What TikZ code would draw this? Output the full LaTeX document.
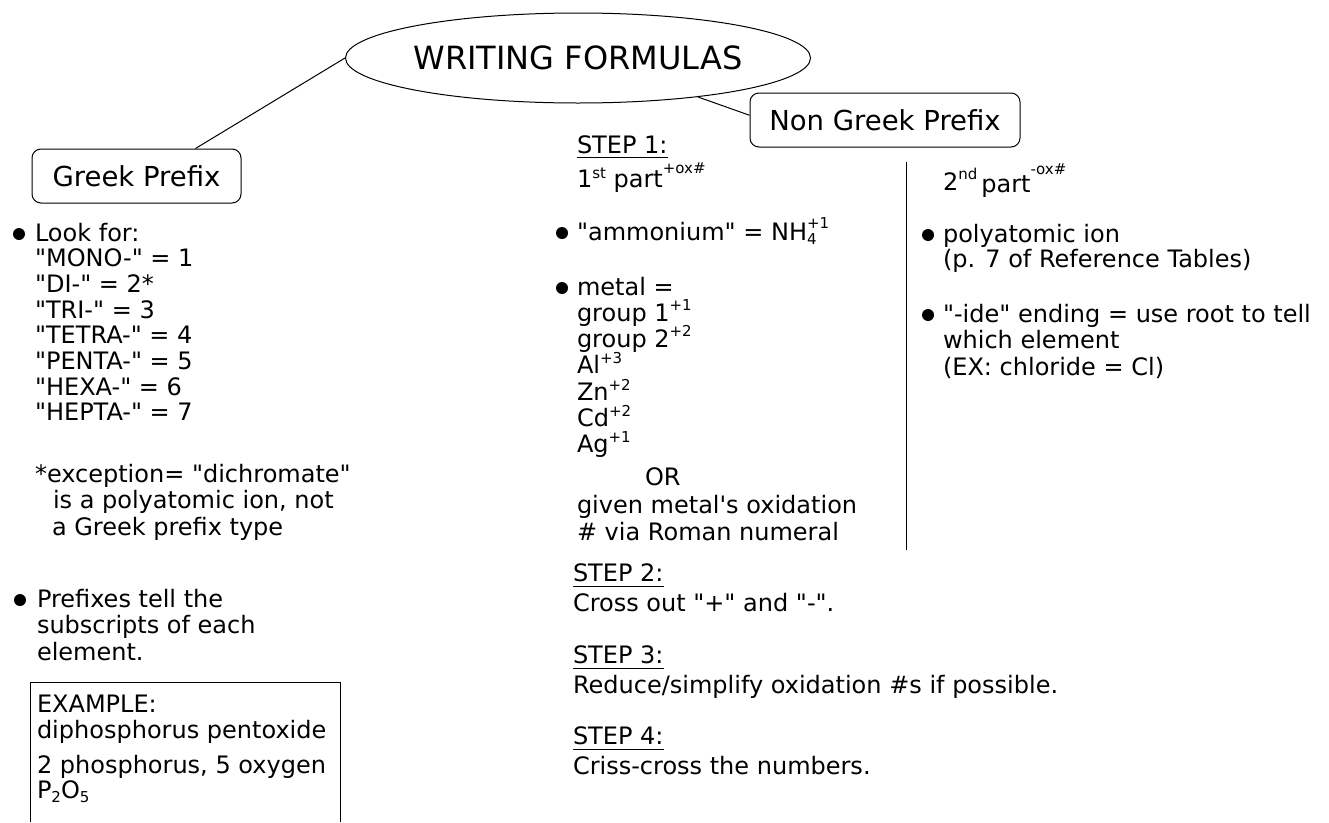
\documentclass[tikz,border=0pt]{standalone}
\usepackage{fontspec}
\setmainfont{DejaVu Sans}
\usetikzlibrary{shapes.geometric}
\newcommand\bodyf{\fontsize{24}{25.7}\selectfont}
\newcommand\metf{\fontsize{24}{26.3}\selectfont}
\newcommand\labf{\fontsize{27.5}{30}\selectfont}
\newcommand\titf{\fontsize{32}{36}\selectfont}
\newcommand\supx[2]{\smash{\raisebox{#1}{\fontsize{15}{15}\selectfont #2}}}
\newcommand\subx[2]{\smash{\raisebox{#1}{\fontsize{15}{15}\selectfont #2}}}
\newcommand\qq{\textquotedbl}
\begin{document}
\begin{tikzpicture}[x=1pt,y=-1pt,
  txt/.style={anchor=base west,inner sep=0pt,outer sep=0pt,align=left,font=\bodyf},
  concept/.style={draw,rounded corners=9pt,minimum height=54pt,inner sep=0pt,font=\labf,line width=1pt},
  title/.style={draw,ellipse,minimum width=424pt,minimum height=90pt,inner sep=0pt,font=\titf,line width=1pt},
  bul/.style={circle,fill=black,inner sep=0pt,minimum size=12pt},
  link/.style={line width=1pt},
  uline/.style={line width=1pt}]
\useasboundingbox (0,0) rectangle (1329,822);

% concepts
\node[title] (wf) at (578,58) {WRITING FORMULAS};
\node[concept,minimum width=209pt] (gp) at (136.5,176) {Greek Prefix};
\node[concept,minimum width=270pt] (ngp) at (885,120) {Non Greek Prefix};
\draw[link] (gp.25) -- (wf.west);
\draw[link] (wf.-18) -- (ngp.178);

% divider
\coordinate (dtop) at (906,162);
\coordinate (dbot) at (906,550);
\draw[link] (dtop) -- (dbot);

% left column (multi-line nodes are placed by the baseline of their last line)
\node[bul] (b1) at (19,234) {};
\node[txt] (look) at (35,{241+7*25.7}) {Look for:\\\qq MONO-\qq{} = 1\\\qq DI-\qq{} = 2*\\\qq TRI-\qq{} = 3\\\qq TETRA-\qq{} = 4\\\qq PENTA-\qq{} = 5\\\qq HEXA-\qq{} = 6\\\qq HEPTA-\qq{} = 7};
\node[txt,font=\fontsize{24}{26.5}\selectfont] (exc) at (35,{482+2*26.5}) {*exception= \qq dichromate\qq\\\hspace*{18pt}is a polyatomic ion, not\\\hspace*{17pt}a Greek prefix type};
\node[bul] (b2) at (20,600) {};
\node[txt,font=\fontsize{24}{26.5}\selectfont] (pref) at (37,{607+2*26.5}) {Prefixes tell the\\subscripts of each\\element.};

% example box (open at the bottom edge of the picture)
\coordinate (exbl) at (30,822);
\coordinate (extl) at (30,682);
\coordinate (extr) at (340,682);
\coordinate (exbr) at (340,822);
\draw[link] (exbl) -- (extl) -- (extr) -- (exbr);
\node[txt,font=\fontsize{24}{26}\selectfont] (ex1) at (37,{712+26}) {EXAMPLE:\\diphosphorus pentoxide};
\node[txt,font=\fontsize{24}{25}\selectfont] (ex2) at (37,{773+25}) {2 phosphorus, 5 oxygen\\P\subx{-4pt}{2}O\subx{-4pt}{5}};

% middle column
\node[txt] (s1) at (577,153) {STEP 1:};
\draw[uline] ([yshift=-4pt]s1.base west) -- ([yshift=-4pt]s1.base east);
\node[txt] (p1) at (577,187) {1\supx{9pt}{st} part\supx{14pt}{+ox\#}};
\node[bul] (b3) at (562,233) {};
\node[txt] (amm) at (577,240) {\qq ammonium\qq{} = NH\rlap{\subx{-4pt}{4}}\supx{12pt}{+1}};
\node[bul] (b4) at (562,288) {};
\node[txt,font=\metf] (met) at (577,{295+6*26.3}) {metal =\\group 1\supx{11pt}{+1}\\group 2\supx{11pt}{+2}\\Al\supx{10pt}{+3}\\Zn\supx{10pt}{+2}\\Cd\supx{10pt}{+2}\\Ag\supx{10pt}{+1}};
\node[txt] (orr) at (645,485) {OR};
\node[txt,font=\fontsize{24}{27}\selectfont] (giv) at (577,{513+27}) {given metal\textquotesingle s oxidation\\\# via Roman numeral};

\node[txt] (s2) at (573,581) {STEP 2:};
\draw[uline] ([yshift=-5pt]s2.base west) -- ([yshift=-5pt]s2.base east);
\node[txt] (t2) at (573,611) {Cross out \qq+\qq{} and \qq-\qq.};
\node[txt] (s3) at (573,663) {STEP 3:};
\draw[uline] ([yshift=-5pt]s3.base west) -- ([yshift=-5pt]s3.base east);
\node[txt] (t3) at (573,693) {Reduce/simplify oxidation \#s if possible.};
\node[txt] (s4) at (573,744) {STEP 4:};
\draw[uline] ([yshift=-5pt]s4.base west) -- ([yshift=-5pt]s4.base east);
\node[txt] (t4) at (573,774) {Criss-cross the numbers.};

% right column
\node[txt] (p2) at (943,190) {2\supx{11pt}{nd}\,\raisebox{-2pt}{part}\supx{16pt}{-ox\#}};
\node[bul] (b5) at (928,235) {};
\node[txt] (poly) at (943,{242+25.7}) {polyatomic ion\\(p. 7 of Reference Tables)};
\node[bul] (b6) at (928,315) {};
\node[txt,font=\fontsize{24}{26.5}\selectfont] (ide) at (943,{322+2*26.5}) {\qq-ide\qq{} ending = use root to tell\\which element\\(EX: chloride = Cl)};
\end{tikzpicture}
\end{document}
